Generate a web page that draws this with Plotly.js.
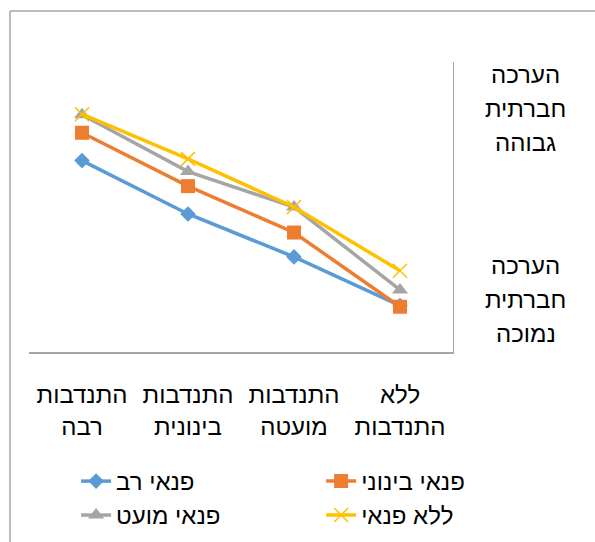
<!DOCTYPE html>
<html>
<head>
<meta charset="utf-8">
<script src="https://cdn.plot.ly/plotly-3.0.1.min.js"></script>
<style>html,body{margin:0;padding:0;background:#fff;}</style>
</head>
<body>
<div id="chart" style="width:595px;height:542px;"></div>
<script>
// Categories (x axis)
const categories = ["התנדבות<br>רבה", "התנדבות<br>בינונית", "התנדבות<br>מועטה", "ללא<br>התנדבות"];
// Series names
const seriesNames = ["פנאי רב", "פנאי בינוני", "פנאי מועט", "ללא פנאי"];
// Series values (arbitrary 0-5 scale)
const valsRav = [3.30, 2.38, 1.64, 0.80];
const valsBeinoni = [3.78, 2.86, 2.06, 0.78];
const valsMuat = [4.09, 3.11, 2.50, 1.07];
const valsLlo = [4.10, 3.33, 2.50, 1.40];
// Y-axis labels (top = high, bottom = low)
const yLabelVals = [4.19, 0.90];
const yLabelTexts = [["הערכה", "חברתית", "גבוהה"], ["הערכה", "חברתית", "נמוכה"]];

const FONT = "Liberation Sans, Arial, DejaVu Sans, sans-serif";
const FS = 24;
const colors = ["#5B9BD5", "#ED7D31", "#A5A5A5", "#FFC000"];
const symbols = ["diamond", "square", "triangle-up", "x-thin-open"];
const sizes = [12, 14, 14, 14];
const legendIds = ["legend", "legend2", "legend3", "legend4"];
const allVals = [valsRav, valsBeinoni, valsMuat, valsLlo];

const traces = allVals.map((v, i) => ({
  type: "scatter",
  mode: "lines+markers",
  x: categories,
  y: v,
  name: seriesNames[i],
  legend: legendIds[i],
  line: {color: colors[i], width: 3.5},
  marker: {
    symbol: symbols[i], size: sizes[i], color: colors[i],
    line: {color: colors[i], width: i === 3 ? 1.5 : 0}
  }
}));

const annotations = [];
yLabelVals.forEach((v, i) => {
  yLabelTexts[i].forEach((t, j) => {
    annotations.push({
      xref: "paper", yref: "y", x: 1.172, y: v, yshift: (1 - j) * 34,
      text: t, showarrow: false, align: "center",
      xanchor: "center", yanchor: "middle",
      font: {family: FONT, size: FS, color: "#000"}
    });
  });
});

function legendAt(x, y) {
  return {
    orientation: "v", x: x, xanchor: "left", y: y, yanchor: "top",
    font: {family: FONT, size: FS, color: "#000"},
    bgcolor: "rgba(0,0,0,0)", tracegroupgap: 0
  };
}

const layout = {
  width: 595, height: 542,
  margin: {l: 29, r: 142, t: 62, b: 190, autoexpand: false},
  paper_bgcolor: "#fff", plot_bgcolor: "#fff",
  font: {family: FONT, size: FS, color: "#000"},
  showlegend: true,
  xaxis: {
    type: "category", showgrid: false, zeroline: false, automargin: false,
    showline: true, linecolor: "#A6A6A6", linewidth: 1.5,
    ticks: "", tickfont: {family: FONT, size: FS, color: "#000"},
    ticklabelstandoff: 21,
    range: [-0.5, 3.5]
  },
  yaxis: {
    range: [0, 5], side: "right", showgrid: false, zeroline: false, automargin: false,
    showline: true, linecolor: "#A6A6A6", linewidth: 1.2,
    showticklabels: false, ticks: ""
  },
  legend: legendAt(0.111, -0.369),
  legend2: legendAt(0.689, -0.369),
  legend3: legendAt(0.111, -0.486),
  legend4: legendAt(0.689, -0.486),
  annotations: annotations,
  shapes: [
    {type: "line", xref: "paper", yref: "paper", x0: -0.0448, x1: -0.0448, y0: 1.176, y1: -0.8,
     line: {color: "#A6A6A6", width: 1.5}},
    {type: "line", xref: "paper", yref: "paper", x0: -0.0448, x1: 1.5, y0: 1.176, y1: 1.176,
     line: {color: "#A6A6A6", width: 1.5}}
  ]
};

Plotly.newPlot("chart", traces, layout, {displayModeBar: false, staticPlot: true});
</script>
</body>
</html>
